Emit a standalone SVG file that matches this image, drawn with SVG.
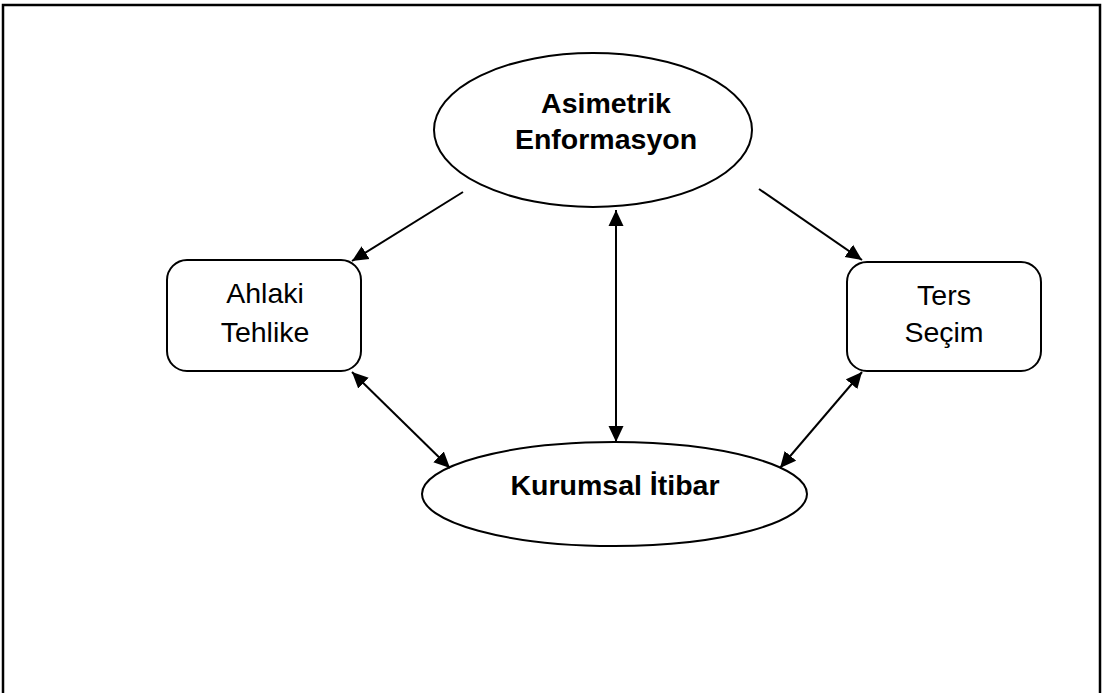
<svg xmlns="http://www.w3.org/2000/svg" width="1105" height="693" viewBox="0 0 1105 693">
<style>
.shape{fill:#fff;stroke:#000;stroke-width:2}
.conn{stroke:#000;stroke-width:2;fill:none}
.b{font-family:"Liberation Sans",Arial,sans-serif;font-weight:bold;font-size:28.5px;text-anchor:middle;fill:#000}
.r{font-family:"Liberation Sans",Arial,sans-serif;font-size:28.5px;text-anchor:middle;fill:#000}
</style>
<defs>
<marker id="ah" markerUnits="userSpaceOnUse" markerWidth="17" markerHeight="16" refX="16" refY="8" orient="auto-start-reverse" viewBox="0 0 17 16">
<path d="M0,0.5 L16,8 L0,15.5 z" fill="#000"/>
</marker>
</defs>
<rect width="1105" height="693" fill="#fff"/>
<path d="M3,700 L3,5 L1100,5 L1100,700" fill="none" stroke="#000" stroke-width="2.5"/>
<g id="asimetrik">
<ellipse class="shape" cx="593" cy="130" rx="159" ry="77"/>
<text class="b" x="606" y="113">Asimetrik</text>
<text class="b" x="606" y="149">Enformasyon</text>
</g>
<g id="ahlaki">
<rect class="shape" x="167" y="260" width="194" height="111" rx="20"/>
<text class="r" x="265" y="303">Ahlaki</text>
<text class="r" x="265" y="342">Tehlike</text>
</g>
<g id="ters">
<rect class="shape" x="847" y="262" width="194" height="109" rx="20"/>
<text class="r" x="944" y="305">Ters</text>
<text class="r" x="944" y="342">Seçim</text>
</g>
<g id="kurumsal">
<ellipse class="shape" cx="614.5" cy="494" rx="192.5" ry="52"/>
<text class="b" x="615" y="495">Kurumsal İtibar</text>
</g>
<g id="connectors">
<line class="conn" x1="463" y1="192" x2="352" y2="261" marker-end="url(#ah)"/>
<line class="conn" x1="759" y1="189" x2="862" y2="260" marker-end="url(#ah)"/>
<line class="conn" x1="352" y1="372" x2="450" y2="468" marker-start="url(#ah)" marker-end="url(#ah)"/>
<line class="conn" x1="862" y1="372" x2="780" y2="468" marker-start="url(#ah)" marker-end="url(#ah)"/>
<line class="conn" x1="616" y1="210" x2="616" y2="442" marker-start="url(#ah)" marker-end="url(#ah)"/>
</g>
</svg>
